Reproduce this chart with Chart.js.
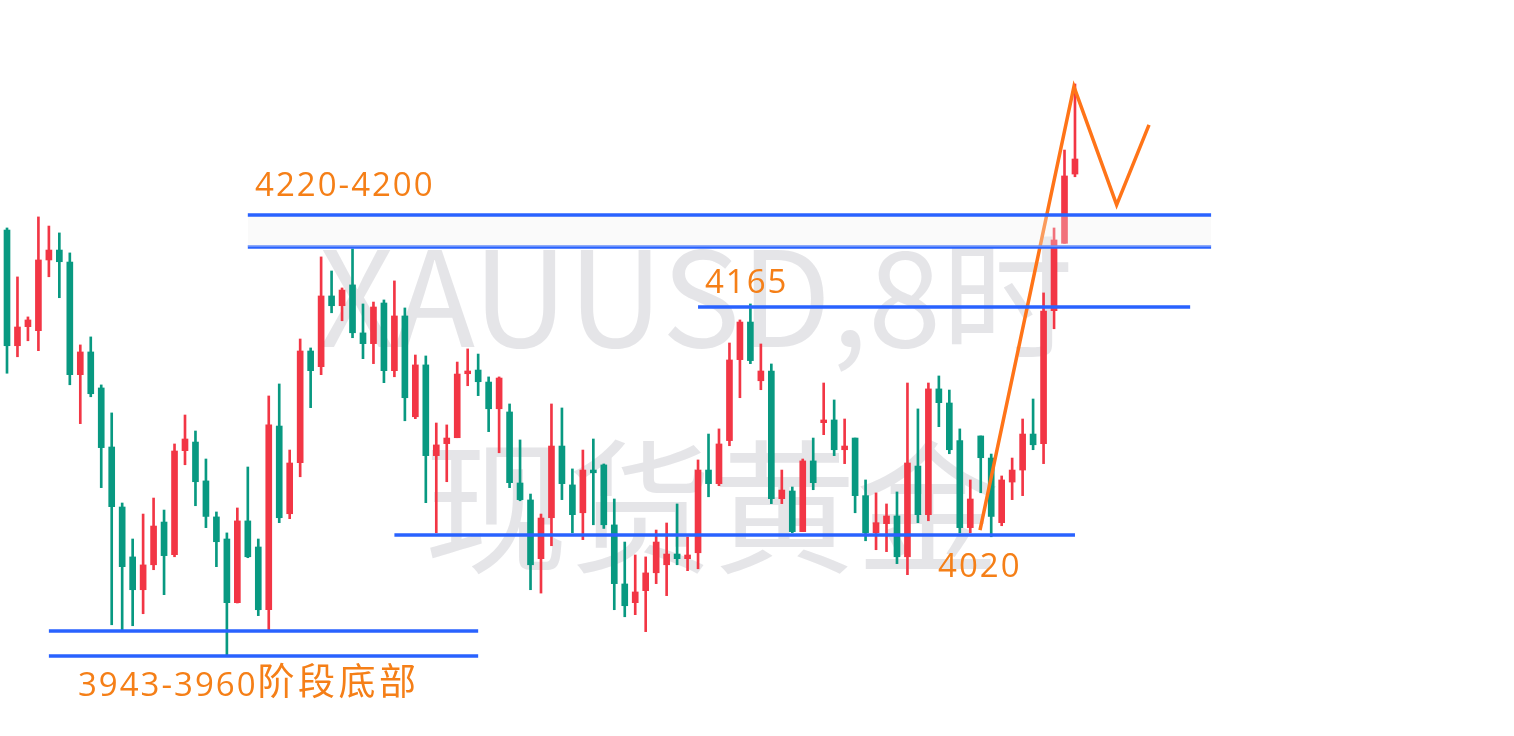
<!DOCTYPE html>
<html>
<head>
<meta charset="utf-8">
<script src="https://cdn.jsdelivr.net/npm/chart.js@4"></script>
<style>
  html, body { margin: 0; padding: 0; background: #ffffff; }
  #wrap { width: 1514px; height: 736px; position: relative; }
</style>
</head>
<body>
<div id="wrap"><canvas id="c"></canvas></div>
<script>
// ---- candle data (XAUUSD 8h), index = candle number ----
const candleOpen = [
  4210.6, 4138.3, 4150.2, 4147.7, 4191.9, 4198.1, 4190.6, 4120.2, 4134.4, 4111.9,
  4075.0, 4037.5, 4006.3, 3985.8, 4001.4, 4028.1, 4007.7, 4072.7, 4078.1, 4053.8,
  4031.3, 4017.5, 3977.7, 4028.8, 4012.5, 3973.3, 4088.1, 4033.3, 4065.2, 4135.0,
  4125.2, 4169.4, 4163.3, 4176.3, 4146.3, 4139.6, 4165.0, 4122.7, 4156.9, 4093.9,
  4126.3, 4069.6, 4077.1, 4080.8, 4120.8, 4123.1, 4115.6, 4098.9, 4096.9, 4052.5,
  4041.9, 4005.2, 4030.8, 4075.6, 4051.3, 4033.9, 4060.6, 4063.8, 4026.3, 3989.4,
  3977.7, 3985.2, 3996.4, 4001.4, 4008.1, 4005.2, 4008.9, 4060.6, 4052.1, 4079.0,
  4129.6, 4153.1, 4116.4, 4122.5, 4042.7, 4047.5, 4022.1, 4066.3, 4090.2, 4091.9,
  4073.3, 4080.6, 4044.6, 4021.4, 4027.1, 4031.9, 4006.4, 4063.1, 4032.7, 4111.3,
  4102.5, 4079.0, 4024.6, 4081.9, 4068.1, 4027.7, 4053.1, 4060.6, 4083.1, 4077.1,
  4160.2, 4202.3, 4245.6
];
const candleHigh = [
  4211.9, 4181.3, 4156.3, 4218.8, 4213.1, 4208.8, 4196.3, 4138.8, 4143.8, 4113.8,
  4096.3, 4040.0, 4017.5, 4033.1, 4043.1, 4035.6, 4076.9, 4095.0, 4085.0, 4067.5,
  4034.4, 4021.3, 4036.9, 4062.5, 4017.5, 4106.9, 4114.4, 4073.1, 4142.5, 4136.9,
  4193.8, 4185.0, 4174.4, 4198.8, 4164.4, 4165.6, 4166.9, 4178.8, 4161.9, 4132.5,
  4131.9, 4090.0, 4088.8, 4128.1, 4136.3, 4133.1, 4118.8, 4118.8, 4101.9, 4079.4,
  4045.6, 4033.1, 4101.9, 4099.4, 4061.3, 4073.1, 4080.0, 4064.4, 4042.5, 4015.6,
  4007.5, 4006.3, 4023.1, 4027.5, 4039.4, 4018.8, 4066.9, 4083.1, 4086.3, 4140.0,
  4154.4, 4164.4, 4139.4, 4126.9, 4060.6, 4050.0, 4067.5, 4080.6, 4115.0, 4104.4,
  4092.5, 4080.6, 4054.4, 4046.3, 4039.4, 4046.9, 4115.0, 4098.8, 4115.0, 4119.4,
  4110.6, 4086.3, 4054.4, 4081.9, 4070.6, 4056.9, 4068.1, 4092.5, 4105.0, 4171.3,
  4211.9, 4260.6, 4301.9
];
const candleLow = [
  4121.1, 4131.4, 4141.4, 4135.2, 4181.4, 4168.3, 4113.9, 4089.6, 4106.4, 4049.6,
  3963.9, 3960.6, 3963.3, 3970.8, 3998.3, 3982.7, 4006.4, 4063.9, 4038.3, 4024.6,
  4000.2, 3944.4, 3977.5, 4005.8, 3969.6, 3960.6, 4027.7, 4030.2, 4056.4, 4099.6,
  4120.2, 4158.9, 4153.9, 4143.3, 4130.2, 4127.1, 4115.2, 4118.9, 4091.4, 4092.7,
  4040.2, 4021.4, 4053.3, 4080.8, 4113.3, 4107.1, 4084.6, 4071.4, 4049.6, 4041.4,
  3985.8, 3983.7, 4013.3, 4042.1, 4021.4, 4017.1, 4026.4, 4024.1, 3973.3, 3968.9,
  3970.2, 3959.6, 3989.6, 3982.1, 4001.4, 3997.7, 3998.9, 4043.9, 4050.8, 4075.8,
  4105.8, 4127.1, 4110.8, 4039.6, 4039.6, 4021.4, 4022.1, 4048.3, 4082.7, 4069.6,
  4064.6, 4033.9, 4016.4, 4010.8, 4009.6, 4002.1, 3995.2, 4027.7, 4028.9, 4087.7,
  4070.8, 4021.4, 4021.4, 4046.4, 4018.9, 4025.8, 4042.1, 4044.6, 4073.3, 4064.6,
  4148.9, 4202.3, 4243.9
];
const candleClose = [
  4138.3, 4150.0, 4154.4, 4191.9, 4198.1, 4190.8, 4120.2, 4134.4, 4108.3, 4074.6,
  4037.7, 4000.2, 3985.8, 4001.3, 4025.6, 4007.1, 4072.5, 4080.0, 4053.3, 4031.6,
  4015.8, 3977.7, 4028.8, 4006.4, 3973.3, 4088.8, 4030.8, 4065.0, 4135.0, 4122.7,
  4169.4, 4163.3, 4173.1, 4146.4, 4139.6, 4162.5, 4122.7, 4156.9, 4105.8, 4126.3,
  4069.6, 4076.3, 4080.6, 4120.6, 4122.5, 4115.8, 4098.9, 4118.1, 4052.7, 4042.1,
  4001.4, 4030.6, 4075.6, 4052.1, 4032.7, 4060.6, 4058.9, 4026.4, 3989.6, 3975.8,
  3984.4, 3996.3, 4015.6, 4008.1, 4005.2, 4007.5, 4060.6, 4052.1, 4076.9, 4129.4,
  4153.1, 4129.0, 4122.5, 4042.7, 4048.1, 4022.1, 4066.3, 4052.7, 4091.9, 4073.3,
  4075.6, 4044.6, 4021.4, 4027.7, 4031.9, 4006.4, 4065.0, 4032.7, 4111.3, 4102.7,
  4073.3, 4024.6, 4042.5, 4068.3, 4031.6, 4054.4, 4060.6, 4083.1, 4076.4, 4160.0,
  4204.4, 4244.4, 4255.0
];

// ---- horizontal levels (price, start candle index, end candle index) ----
const levelPrice = [4220, 4200, 4162.5, 4020, 3960, 3944.4];
const levelStart = [23, 23, 66, 37, 4, 4];
const levelEnd   = [115, 115, 113, 102, 45, 45];

// ---- projected orange path ----
const pathX = [92.93, 101.9, 105.98, 109.07];
const pathY = [4023.1, 4300.2, 4226.3, 4276.3];

// ---- text labels ----
const labelText  = ['4220-4200', '4165', '4020', '3943-3960'];
const labelX     = [23.69, 66.66, 88.92, 6.78];
const labelY     = [4231.9, 4171.25, 3993.75, 3919.4];
const labelSuffix = ['', '', '', '阶段底部'];

const watermarkLines = ['XAUUSD,8时', '现货黄金'];

// ---- view range ----
const xMin = -0.6686, xMax = 143.93;
const yMin = 3894.375, yMax = 4354.375;

const UP = '#F23645', DOWN = '#089981', BLUE = '#2962FF', ORANGE = '#F57F17';

const bodies = candleOpen.map((o, i) => ({ x: i, y: [o, candleClose[i]] }));
const wicks = candleOpen.map((o, i) => ({ x: i, y: [candleLow[i], candleHigh[i]] }));
const colors = candleOpen.map((o, i) => candleClose[i] >= o ? UP : DOWN);

const lineSets = levelPrice.map((p, k) => ({
  type: 'line',
  data: [{ x: levelStart[k], y: p }, { x: levelEnd[k], y: p }],
  borderColor: BLUE,
  borderWidth: 3.5,
  pointRadius: 0,
  fill: k === 0 ? { target: '+1' } : false,
  backgroundColor: 'rgba(238,238,238,0.32)',
  order: 0
}));

const pathSet = {
  type: 'line',
  data: pathX.map((x, i) => ({ x, y: pathY[i] })),
  borderColor: '#FF7418',
  borderWidth: 3.5,
  pointRadius: 0,
  tension: 0,
  fill: false,
  borderJoinStyle: 'miter',
  order: 0
};

const watermarkPlugin = {
  id: 'watermark',
  beforeDatasetsDraw(chart) {
    const ctx = chart.ctx;
    ctx.save();
    ctx.fillStyle = 'rgba(170,170,178,0.30)';
    ctx.textAlign = 'center';
    ctx.textBaseline = 'alphabetic';
    ctx.font = '132px "Noto Sans CJK SC"';
    ctx.fillText(watermarkLines[0], 696, 347);
    ctx.font = '144px "Noto Sans CJK SC"';
    ctx.fillText(watermarkLines[1], 712, 562);
    ctx.restore();
  }
};

const labelPlugin = {
  id: 'labels',
  afterDatasetsDraw(chart) {
    const ctx = chart.ctx;
    const xs = chart.scales.x, ys = chart.scales.y;
    ctx.save();
    ctx.fillStyle = ORANGE;
    ctx.textAlign = 'left';
    ctx.textBaseline = 'alphabetic';
    labelText.forEach((t, i) => {
      const px = xs.getPixelForValue(labelX[i]);
      const py = ys.getPixelForValue(labelY[i]);
      ctx.font = '500 33px "Open Sans"';
      ctx.letterSpacing = '2px';
      ctx.fillText(t, px, py);
      if (labelSuffix[i]) {
        const w = ctx.measureText(t).width;
        ctx.font = '37px "Noto Sans CJK SC"';
        ctx.letterSpacing = '3.5px';
        ctx.fillText(labelSuffix[i], px + w, py - 1);
      }
    });
    ctx.restore();
  }
};

new Chart(document.getElementById('c'), {
  type: 'bar',
  data: {
    datasets: [
      ...lineSets,
      pathSet,
      {
        type: 'bar',
        data: bodies,
        backgroundColor: colors,
        borderWidth: 0,
        barThickness: 6,
        minBarLength: 2,
        grouped: false,
        order: 1
      },
      {
        type: 'bar',
        data: wicks,
        backgroundColor: colors,
        borderWidth: 0,
        barThickness: 2,
        grouped: false,
        order: 2
      }
    ]
  },
  options: {
    responsive: true,
    maintainAspectRatio: false,
    animation: false,
    layout: { padding: 0 },
    plugins: { legend: { display: false }, tooltip: { enabled: false } },
    scales: {
      x: { type: 'linear', display: false, min: xMin, max: xMax, offset: false, grid: { offset: false } },
      y: { type: 'linear', display: false, min: yMin, max: yMax, beginAtZero: false }
    }
  },
  plugins: [watermarkPlugin, labelPlugin]
});
</script>
</body>
</html>
